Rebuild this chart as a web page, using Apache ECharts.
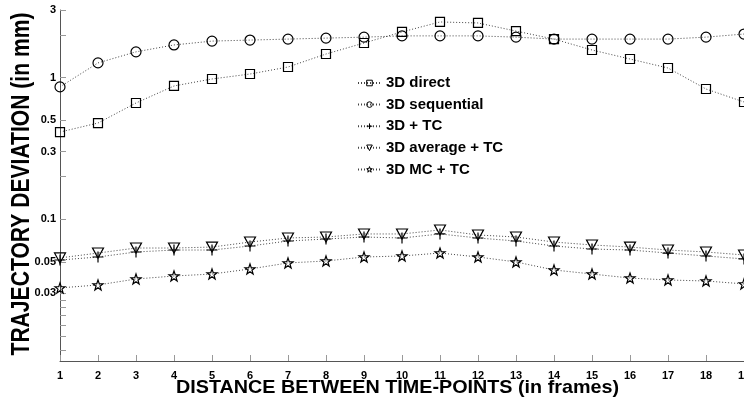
<!DOCTYPE html>
<html><head><meta charset="utf-8">
<script src="https://cdn.jsdelivr.net/npm/echarts@6/dist/echarts.min.js"></script>
<style>html,body{margin:0;padding:0;background:#fff}#c{width:744px;height:404px}</style>
</head><body><div id="c"></div>
<script>
const frames = [1,2,3,4,5,6,7,8,9,10,11,12,13,14,15,16,17,18,19];
const direct3D     = [0.413,0.478,0.662,0.873,0.978,1.06,1.188,1.467,1.755,2.10,2.47,2.43,2.13,1.87,1.566,1.353,1.169,0.831,0.673];
const sequential3D = [0.86,1.27,1.52,1.70,1.81,1.84,1.87,1.90,1.93,1.97,1.97,1.97,1.93,1.87,1.87,1.87,1.87,1.93,2.03];
const tc3D         = [0.0516,0.0542,0.0588,0.0607,0.0607,0.0648,0.0703,0.0726,0.075,0.0738,0.0788,0.0738,0.0703,0.0648,0.0617,0.0607,0.0578,0.0551,0.0525];
const averageTC3D  = [0.0534,0.0578,0.0627,0.0627,0.0637,0.0691,0.0738,0.075,0.0788,0.0788,0.0841,0.0775,0.075,0.0691,0.0659,0.0637,0.0607,0.0588,0.056];
const mcTC3D       = [0.0328,0.0344,0.0379,0.0398,0.0411,0.0446,0.0492,0.0508,0.0542,0.0551,0.0578,0.0542,0.050,0.0439,0.0411,0.0385,0.0373,0.0367,0.035];
const seriesNames  = ['3D direct','3D sequential','3D + TC','3D average + TC','3D MC + TC'];
const yTickLabels  = [0.03,0.05,0.1,0.3,0.5,1,3];
const yMinorTicks  = [0.012,0.015,0.018,0.021,0.024,0.027,0.2,2];
const xTitle = 'DISTANCE BETWEEN TIME-POINTS (in frames)';
const yTitle = 'TRAJECTORY DEVIATION (in mm)';

function starPath(){
  let p=[];
  for(let i=0;i<10;i++){
    const r = i%2===0 ? 10 : 4;
    const a = -Math.PI/2 + i*Math.PI/5;
    p.push((i===0?'M':'L')+(10+r*Math.cos(a)).toFixed(2)+' '+(10+r*Math.sin(a)).toFixed(2));
  }
  return 'path://'+p.join('')+'Z';
}
const symbols = [
  {symbol:'rect', size:9},
  {symbol:'circle', size:10},
  {symbol:'path://M5 0L5 10M0 5L10 5', size:11},
  {symbol:'path://M0 0L10 0L5 9Z', size:[11,10]},
  {symbol:starPath(), size:10}
];
const values = [direct3D, sequential3D, tc3D, averageTC3D, mcTC3D];
const fam = "'Liberation Sans',Arial,Helvetica,sans-serif";

function measure(text, size){
  const ctx = document.createElement('canvas').getContext('2d');
  ctx.font = 'bold '+size+'px '+fam;
  return ctx.measureText(text).width;
}
const xTitleSize = 19, yTitleSize = 25;
const xScale = 443 / measure(xTitle, xTitleSize);
const yScale = 343 / measure(yTitle, yTitleSize);

const series = values.map((arr,i)=>({
  name: seriesNames[i],
  type:'line',
  data: frames.map((f,j)=>[f,arr[j]]),
  symbol: symbols[i].symbol,
  symbolSize: symbols[i].size,
  showAllSymbol:true,
  lineStyle:{color:'#444', width:1, type:[1,2]},
  itemStyle:{color:'rgba(0,0,0,0)', borderColor:'#000', borderWidth:1.2},
  emphasis:{disabled:true},
  animation:false,
  z: 2
}));

const chart = echarts.init(document.getElementById('c'), null, {renderer:'canvas'});
chart.setOption({
  backgroundColor:'#fff',
  animation:false,
  grid:{left:60, top:10, right:0, bottom:43, containLabel:false, outerBoundsMode:'none'},
  legend:{
    orient:'vertical', left:352, top:69,
    itemWidth:23, itemHeight:7, itemGap:3.6,
    itemStyle:{borderWidth:1},
    data: seriesNames,
    textStyle:{fontFamily:fam, fontWeight:'bold', fontSize:15, color:'#000', lineHeight:18},
    inactiveColor:'#000'
  },
  xAxis:{
    type:'value', min:1, max:19, interval:1,
    axisLine:{lineStyle:{color:'#555', width:1}},
    axisTick:{inside:true, length:6, lineStyle:{color:'#999'}},
    axisLabel:{fontFamily:fam, fontWeight:'bold', fontSize:11, color:'#000', margin:9},
    splitLine:{show:false}
  },
  yAxis:{
    type:'log', logBase:10, min:0.01, max:3,
    axisLine:{show:true, lineStyle:{color:'#555', width:1}},
    axisTick:{inside:true, length:6, lineStyle:{color:'#999'}, customValues: yTickLabels.concat(yMinorTicks)},
    axisLabel:{fontFamily:fam, fontWeight:'bold', fontSize:11, color:'#000', margin:4, customValues: yTickLabels,
      formatter: v => String(+v.toPrecision(3))},
    minorTick:{show:false},
    splitLine:{show:false}
  },
  graphic:[
    {type:'text', x:397.5, y:388, scaleX:xScale, scaleY:1,
      style:{text:xTitle, font:'bold '+xTitleSize+'px '+fam, fill:'#000', align:'center', verticalAlign:'middle'}},
    {type:'text', x:22, y:184, rotation:Math.PI/2, scaleX:yScale, scaleY:1,
      style:{text:yTitle, font:'bold '+yTitleSize+'px '+fam, fill:'#000', align:'center', verticalAlign:'middle'}}
  ],
  series: series
});
</script></body></html>
